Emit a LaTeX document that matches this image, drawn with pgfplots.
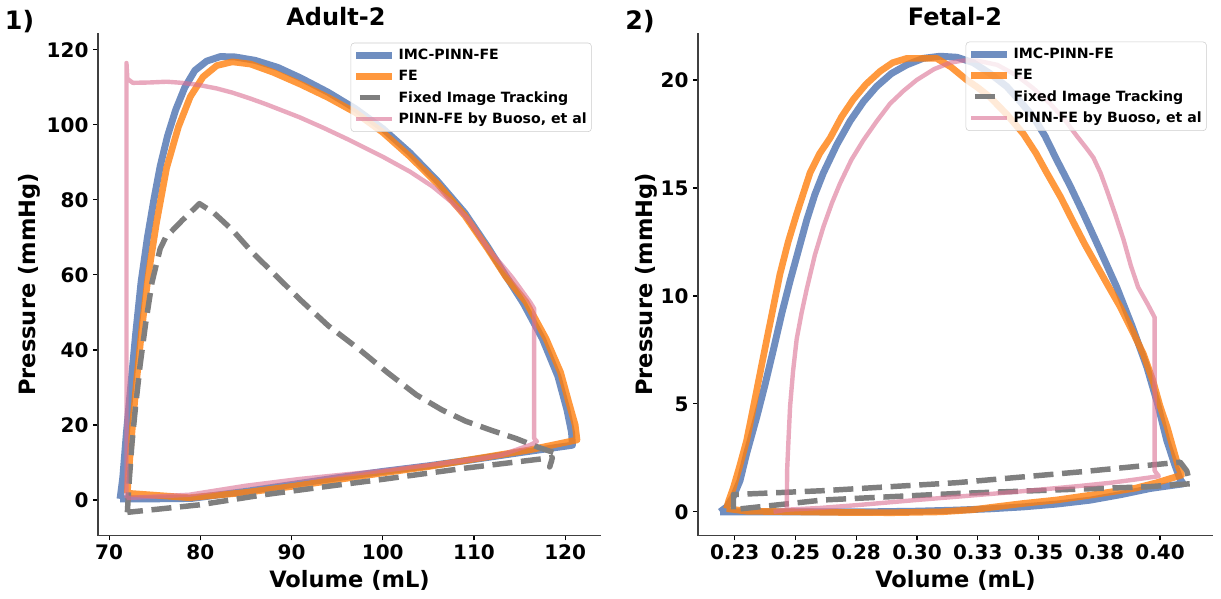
\documentclass[border=0pt]{standalone}
\usepackage{fontspec}
\setmainfont{DejaVu Sans}
\usepackage{pgfplots}
\pgfplotsset{compat=1.18}
\definecolor{cblue}{HTML}{4C72B0}
\definecolor{corange}{HTML}{FF7F0E}
\definecolor{cpink}{HTML}{DB7093}
\definecolor{cgray}{HTML}{7F7F7F}
\pgfplotsset{
  pvstyle/.style={
    scale only axis, height=376.7pt, clip mode=individual,
    axis x line*=bottom, axis y line*=left,
    axis line style={black!75, line width=0.9pt},
    tick style={black, line width=0.9pt},
    major tick length=3.6pt, tick align=outside,
    ticklabel style={font=\bfseries\fontsize{15}{18}\selectfont},
    /pgf/number format/assume math mode=true,
    label style={font=\bfseries\fontsize{16.9}{20}\selectfont},
    xlabel style={at={(axis description cs:0.5,-0.104)}, anchor=base},
    legend cell align=left,
    legend image code/.code={\draw[#1] (0pt,0pt) -- (27pt,0pt);},
    legend style={draw=black!20, rounded corners=2.5pt, fill=white, fill opacity=0.8, text opacity=1,
      font=\bfseries\fontsize{10.6}{12.5}\selectfont, inner xsep=1.5pt, inner ysep=2.5pt, row sep=2.6pt},
    every axis plot/.append style={line join=round, mark=none},
  },
  sblue/.style={cblue, opacity=0.8, line width=5.2pt},
  sorange/.style={corange, opacity=0.8, line width=5.0pt},
  sgray/.style={cgray, line width=4.1pt, dash pattern=on 15pt off 6.5pt,
     legend image code/.code={\draw[#1, solid] (2.5pt,0pt) -- (18pt,0pt);}},
  spink/.style={cpink, opacity=0.6, line width=3.3pt},
}
\begin{document}
\begin{tikzpicture}
\useasboundingbox (0,0) rectangle (915.75pt,449.25pt);
% ---------------- Panel 1 ----------------
\begin{axis}[pvstyle, at={(73.5pt,47.55pt)}, anchor=south west, width=377.25pt,
  xmin=68.78, xmax=123.93, ymin=-9.5, ymax=124.4,
  xtick={70,80,90,100,110,120}, ytick={0,20,40,60,80,100,120},
  xlabel={Volume (mL)}, ylabel={Pressure (mmHg)},
  ylabel style={at={(axis description cs:-0.137,0.5)}, anchor=center},
  legend style={at={(axis description cs:0.9815,0.9813)}, anchor=north east},
]
\addplot[sblue] table {
71.2 0.3
71.5 6
71.9 18
72.4 31
72.9 44
73.5 58
74.2 70
74.9 80
75.6 89
76.4 97
77.3 104
78.3 110
79.4 114.5
80.7 117
82.2 118.2
83.8 118.1
86 117.2
88.5 115.3
91 112.5
94 108.7
97 104.3
100 99
103 92.5
106 85
109 76.5
111.5 67.5
113.3 60.5
115.4 52.5
117.5 43
119.2 33
120.2 24
120.7 18
120.8 14.6
115 12.6
110 10.8
105 9.1
100 7.6
95 5.9
90 4.1
85 2.3
79 0.4
75 0.3
71.2 0.3
};
\addlegendentry{IMC-PINN-FE}
\addplot[sorange] table {
72.0 1.8
72.1 6
72.5 18
73.0 31.5
73.6 46
74.3 60
75.2 74
76.3 88.5
77.6 99.5
78.9 107.5
80.3 112.8
81.8 115.8
83.5 116.8
85.5 116.2
88 114
91 110.8
94 107.3
97 103.3
100 98
103 91.5
106 84.3
109 75.8
111.5 67
113.5 59.5
115.7 52.8
117.9 43
119.5 34
120.4 26
121.1 20
121.3 16
116 13.3
110 10.9
105 8.9
100 7.2
95 5.4
90 3.6
85 2.0
78.8 0.6
72.0 1.8
};
\addlegendentry{FE}
\addplot[sgray] table {
72.0 -3.3
72.2 5
72.5 15
72.9 25
73.4 36
74.0 47
74.7 58
75.6 67
76.2 70
78 74.5
79.9 79
81.5 76.5
83.5 72
85.7 66
88 60.5
90.9 53.5
94 46.5
97.5 40
100.5 34
103.7 28
106.5 24
109.1 21
112 18.5
114.6 16.4
117.1 14
118.8 12.6
118.3 8.8
118.6 11.3
109.1 8.5
100 5.5
94.5 3.8
87 1.4
79.9 -1.3
72.0 -3.3
};
\addlegendentry{Fixed Image Tracking}
\addplot[spink] table {
71.9 0.5
71.9 116.5
72.0 112.3
72.6 111.2
74.5 111.3
76.3 111.5
78 111.2
79.9 110.6
81.8 109.7
83.5 108.6
85.5 107
87.2 105.5
89 103.8
90.9 102
93.5 99.2
96.3 96
100 91.5
103 87.5
105.5 83.5
107.5 79.5
109.5 74.5
111.4 67.5
114.2 59.3
116.2 52.6
116.6 51
116.6 16.4
116.9 15.6
116.2 14.7
113 12
110.9 11.1
105 9.3
100 7.8
95 6.6
90.9 5.6
85 3.8
78.8 1.4
71.9 0.5
};
\addlegendentry{PINN-FE by Buoso, et al}
\node[font=\bfseries\fontsize{19}{22}\selectfont, anchor=base] at (axis description cs:-0.156,1.008) {1)};
\node[font=\bfseries\fontsize{18}{21}\selectfont, anchor=base] at (axis description cs:0.473,1.0165) {Adult-2};
\end{axis}
% ---------------- Panel 2 ----------------
\begin{axis}[pvstyle, at={(523.5pt,47.55pt)}, anchor=south west, width=386.25pt,
  xmin=0.2099, xmax=0.4218, ymin=-1.1, ymax=22.16,
  xtick={0.225,0.25,0.275,0.3,0.325,0.35,0.375,0.4},
  xticklabels={0.23,0.25,0.28,0.30,0.33,0.35,0.38,0.40},
  ytick={0,5,10,15,20},
  xlabel={Volume (mL)}, ylabel={Pressure (mmHg)},
  ylabel style={at={(axis description cs:-0.101,0.5)}, anchor=center},
  legend style={at={(axis description cs:0.9878,0.9833)}, anchor=north east},
]
\addplot[sblue] table {
0.2190 0.0
0.2217 0.23
0.2244 0.7
0.2272 1.45
0.2299 2.7
0.2341 4.4
0.2375 5.9
0.2409 7.5
0.2444 9.2
0.2478 10.7
0.2512 12.1
0.2546 13.5
0.2580 14.7
0.2615 15.7
0.2670 17.0
0.2725 18.1
0.2780 19.0
0.2834 19.7
0.2895 20.3
0.2958 20.7
0.3025 21.0
0.3095 21.1
0.3165 21.05
0.3232 20.8
0.3300 20.3
0.3369 19.7
0.3425 19.0
0.3478 18.3
0.3527 17.4
0.3575 16.3
0.3630 15.1
0.3685 13.8
0.3750 12.2
0.3822 10.4
0.3885 8.6
0.3946 6.7
0.3990 5.0
0.4028 3.3
0.4060 2.2
0.4083 1.5
0.4096 1.3
0.3959 1.08
0.3840 0.8
0.3712 0.54
0.3575 0.36
0.3438 0.23
0.3300 0.14
0.3164 0.08
0.3000 0.03
0.2800 0.0
0.2500 0.0
0.2190 0.0
};
\addlegendentry{IMC-PINN-FE}
\addplot[sorange] table {
0.2217 0.15
0.2225 0.5
0.2244 1.1
0.2270 2.1
0.2299 3.3
0.2333 5.2
0.2368 7.2
0.2402 9.1
0.2436 11.0
0.2470 12.5
0.2505 13.8
0.2560 15.7
0.2600 16.6
0.2642 17.3
0.2690 18.3
0.2738 19.1
0.2790 19.8
0.2848 20.4
0.2900 20.8
0.2958 21.0
0.3020 21.0
0.3081 21.0
0.3140 20.6
0.3205 20.0
0.3250 19.65
0.3301 19.2
0.3370 18.4
0.3438 17.5
0.3490 16.6
0.3534 15.7
0.3590 14.6
0.3644 13.4
0.3690 12.4
0.3740 11.4
0.3790 10.4
0.3836 9.5
0.3885 8.4
0.3932 7.3
0.3970 6.1
0.4000 4.9
0.4030 3.9
0.4055 2.9
0.4075 2.1
0.4089 1.7
0.4030 1.5
0.3987 1.35
0.3900 1.1
0.3712 0.77
0.3575 0.55
0.3438 0.39
0.3300 0.2
0.3232 0.1
0.3100 0.0
0.2900 -0.04
0.2700 -0.03
0.2500 0.0
0.2300 0.03
0.2217 0.15
};
\addlegendentry{FE}
\addplot[sgray] table {
0.2245 0.12
0.2245 0.8
0.2615 0.98
0.3164 1.35
0.3671 1.85
0.4083 2.3
0.4110 1.9
0.4124 1.3
0.3946 1.16
0.3712 1.07
0.3164 0.85
0.2615 0.55
0.2258 0.12
};
\addlegendentry{Fixed Image Tracking}
\addplot[spink] table {
0.2410 0.0
0.2464 0.1
0.2466 2.0
0.2472 3.5
0.2478 4.9
0.2490 6.5
0.2505 8.0
0.2525 9.2
0.2546 10.3
0.2580 11.9
0.2615 13.2
0.2650 14.3
0.2683 15.2
0.2730 16.3
0.2779 17.2
0.2835 18.1
0.2889 18.9
0.2945 19.5
0.2999 20.0
0.3070 20.5
0.3136 20.8
0.3190 20.9
0.3246 20.9
0.3330 20.7
0.3411 20.2
0.3480 19.6
0.3548 18.9
0.3605 18.2
0.3658 17.4
0.3700 16.8
0.3726 16.4
0.3755 15.7
0.3781 14.9
0.3815 13.8
0.3850 12.6
0.3880 11.4
0.3910 10.4
0.3950 9.6
0.3978 9.0
0.3978 1.9
0.3995 1.65
0.3900 1.5
0.3800 1.35
0.3671 1.2
0.3575 1.1
0.3400 0.92
0.3164 0.7
0.3000 0.55
0.2752 0.31
0.2600 0.18
0.2464 0.1
};
\addlegendentry{PINN-FE by Buoso, et al}
\node[font=\bfseries\fontsize{19}{22}\selectfont, anchor=base] at (axis description cs:-0.1126,1.008) {2)};
\node[font=\bfseries\fontsize{18}{21}\selectfont, anchor=base] at (axis description cs:0.499,1.0165) {Fetal-2};
\end{axis}
\end{tikzpicture}
\end{document}
